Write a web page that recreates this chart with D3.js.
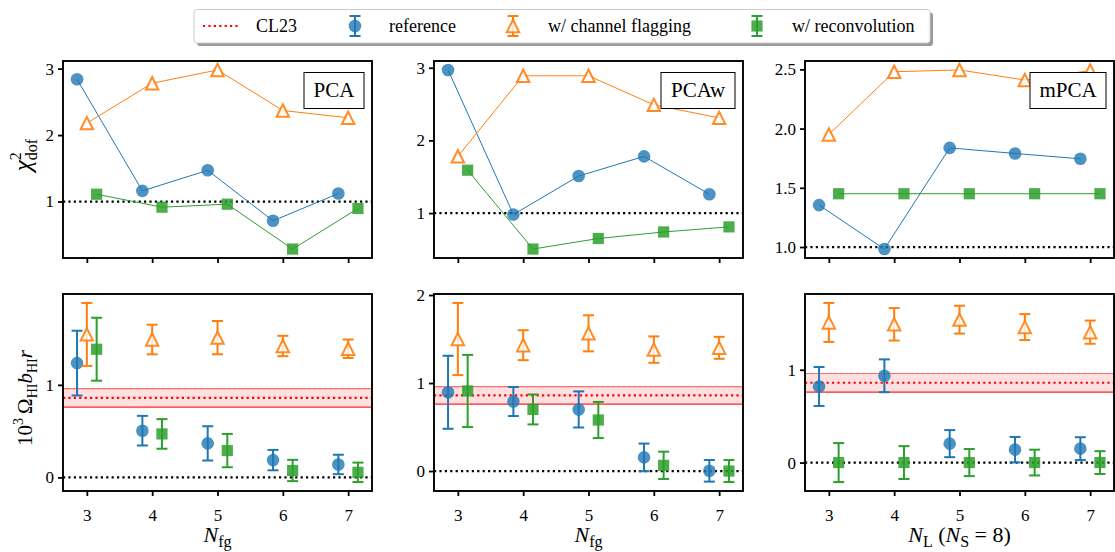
<!DOCTYPE html>
<html>
<head>
<meta charset="utf-8">
<script src="https://cdn.jsdelivr.net/npm/d3@7"></script>
<style>
  body { margin: 0; background: #fff; }
</style>
</head>
<body>
<svg width="1115" height="552" font-family="'Liberation Serif', Tinos, 'Times New Roman', 'DejaVu Serif', serif"></svg>
<script>
// x values (number of modes) and per-series offsets
const nValues = [3, 4, 5, 6, 7];
const methods = ["PCA", "PCAw", "mPCA"];
const seriesNames = ["reference", "w/ channel flagging", "w/ reconvolution"];
const seriesOffset = [-0.15, 0, 0.15];

// reduced chi^2 (top row)
const chiRefPCA   = [2.84, 1.16, 1.47, 0.71, 1.12];
const chiFlagPCA  = [2.18, 2.78, 2.98, 2.37, 2.26];
const chiReconPCA = [1.11, 0.915, 0.96, 0.285, 0.895];
const chiRefPCAw   = [2.97, 0.98, 1.51, 1.78, 1.26];
const chiFlagPCAw  = [1.78, 2.89, 2.89, 2.49, 2.31];
const chiReconPCAw = [1.59, 0.505, 0.65, 0.74, 0.81];
const chiRefMPCA   = [1.354, 0.983, 1.837, 1.79, 1.745];
const chiFlagMPCA  = [1.95, 2.48, 2.495, 2.41, 2.49];
const chiReconMPCA = [1.45, 1.45, 1.45, 1.45, 1.45];

// 10^3 Omega_HI b_HI r (bottom row) and 1-sigma errors
const omRefPCA     = [1.235, 0.505, 0.368, 0.187, 0.14];
const omRefPCAErr  = [0.35, 0.16, 0.185, 0.11, 0.105];
const omFlagPCA    = [1.545, 1.49, 1.51, 1.42, 1.39];
const omFlagPCAErr = [0.34, 0.16, 0.18, 0.11, 0.10];
const omReconPCA    = [1.385, 0.47, 0.29, 0.075, 0.055];
const omReconPCAErr = [0.34, 0.16, 0.18, 0.115, 0.105];

const omRefPCAw     = [0.895, 0.79, 0.70, 0.155, 0.003];
const omRefPCAwErr  = [0.415, 0.165, 0.205, 0.157, 0.123];
const omFlagPCAw    = [1.50, 1.43, 1.565, 1.38, 1.40];
const omFlagPCAwErr = [0.41, 0.17, 0.205, 0.15, 0.125];
const omReconPCAw    = [0.91, 0.70, 0.58, 0.065, 0.0];
const omReconPCAwErr = [0.41, 0.17, 0.205, 0.155, 0.125];

const omRefMPCA     = [0.82, 0.935, 0.204, 0.139, 0.15];
const omRefMPCAErr  = [0.21, 0.177, 0.146, 0.137, 0.123];
const omFlagMPCA    = [1.51, 1.49, 1.54, 1.46, 1.405];
const omFlagMPCAErr = [0.21, 0.175, 0.15, 0.14, 0.125];
const omReconMPCA    = [0, 0, 0, 0, 0];
const omReconMPCAErr = [0.21, 0.177, 0.146, 0.139, 0.123];

// CL23 literature value
const cl23 = 0.86, cl23Err = 0.10;

// tick values
const topTicks = [[1, 2, 3], [1, 2, 3], [1.0, 1.5, 2.0, 2.5]];
const bottomTicks = [[0, 1], [0, 1, 2], [0, 1]];

const chiData = [
  [chiRefPCA, chiFlagPCA, chiReconPCA],
  [chiRefPCAw, chiFlagPCAw, chiReconPCAw],
  [chiRefMPCA, chiFlagMPCA, chiReconMPCA]
];
const omData = [
  [[omRefPCA, omRefPCAErr], [omFlagPCA, omFlagPCAErr], [omReconPCA, omReconPCAErr]],
  [[omRefPCAw, omRefPCAwErr], [omFlagPCAw, omFlagPCAwErr], [omReconPCAw, omReconPCAwErr]],
  [[omRefMPCA, omRefMPCAErr], [omFlagMPCA, omFlagMPCAErr], [omReconMPCA, omReconMPCAErr]]
];

const colors = ["#1f77b4", "#ff7f0e", "#2ca02c"];
const colX = [63, 434, 805], panelW = 309;
const rowY = [61, 294], panelH = 197;

const svg = d3.select("svg");

function pad5(lo, hi) {
  const r = hi - lo;
  return [lo - 0.05 * r, hi + 0.05 * r];
}

const xLo = d3.min(nValues) + d3.min(seriesOffset), xHi = d3.max(nValues) + d3.max(seriesOffset);

function drawMarker(g, kind, cx, cy, col) {
  if (kind === 0) {
    g.append("circle").attr("cx", cx).attr("cy", cy).attr("r", 6.3)
      .attr("fill", col).attr("fill-opacity", 0.8);
  } else if (kind === 1) {
    const s = 6.2;
    g.append("path")
      .attr("d", `M${cx},${cy - s}L${cx + s},${cy + s}L${cx - s},${cy + s}Z`)
      .attr("fill", "#fff").attr("fill-opacity", 0.8)
      .attr("stroke", col).attr("stroke-width", 2).attr("stroke-opacity", 0.9)
      .attr("stroke-linejoin", "miter");
  } else {
    g.append("rect").attr("x", cx - 5.6).attr("y", cy - 5.6).attr("width", 11.2).attr("height", 11.2)
      .attr("fill", col).attr("fill-opacity", 0.85);
  }
}

function styleAxis(a) {
  a.attr("font-family", null).attr("font-size", null);
  a.select(".domain").remove();
  a.selectAll(".tick line").attr("stroke", "#000").attr("stroke-width", 1.8);
  a.selectAll(".tick text").style("font-size", "17px").attr("fill", "#000");
}

function richText(sel, parts) {
  parts.forEach(p => {
    const t = sel.append("tspan").text(p.t);
    if (p.size) t.style("font-size", p.size + "px");
    if (p.italic) t.style("font-style", "italic");
    if (p.dx) t.attr("dx", p.dx);
    if (p.dy) t.attr("dy", p.dy);
  });
}

methods.forEach((m, col) => {
  const x = d3.scaleLinear().domain(pad5(xLo, xHi)).range([colX[col], colX[col] + panelW]);

  // ---------- top: chi2 ----------
  {
    const all = chiData[col].flat();
    const y = d3.scaleLinear().domain(pad5(d3.min(all), d3.max(all))).range([rowY[0] + panelH, rowY[0]]);
    const g = svg.append("g");

    g.append("line").attr("x1", colX[col]).attr("x2", colX[col] + panelW)
      .attr("y1", y(1)).attr("y2", y(1))
      .attr("stroke", "#000").attr("stroke-width", 2.2).attr("stroke-dasharray", "2.2,3.2");

    chiData[col].forEach((vals, s) => {
      const line = d3.line().x((d, i) => x(nValues[i] + seriesOffset[s])).y(d => y(d));
      g.append("path").attr("d", line(vals)).attr("fill", "none")
        .attr("stroke", colors[s]).attr("stroke-width", 1);
    });
    chiData[col].forEach((vals, s) => {
      vals.forEach((v, i) => drawMarker(g, s, x(nValues[i] + seriesOffset[s]), y(v), colors[s]));
    });

    // method label box
    const bw = [60, 74, 76][col];
    const bx = colX[col] + panelW - 8 - bw;
    g.append("rect").attr("x", bx).attr("y", 72.5).attr("width", bw).attr("height", 36)
      .attr("fill", "#fff").attr("stroke", "#000").attr("stroke-width", 1);
    g.append("text").attr("x", bx + bw / 2).attr("y", 97).attr("text-anchor", "middle")
      .style("font-size", "21px").text(m);

    g.append("g").attr("transform", `translate(${colX[col]},0)`)
      .call(d3.axisLeft(y).tickValues(topTicks[col]).tickSize(5).tickPadding(4)
        .tickFormat(col === 2 ? d3.format(".1f") : d3.format("d")))
      .call(styleAxis);
    g.append("g").attr("transform", `translate(0,${rowY[0] + panelH})`)
      .call(d3.axisBottom(x).tickValues(nValues).tickSize(5).tickFormat(""))
      .call(styleAxis);

    g.append("rect").attr("x", colX[col]).attr("y", rowY[0]).attr("width", panelW).attr("height", panelH)
      .attr("fill", "none").attr("stroke", "#000").attr("stroke-width", 1.9);
  }

  // ---------- bottom: Omega_HI b_HI r ----------
  {
    const lows = omData[col].flatMap(([v, e]) => v.map((d, i) => d - e[i]));
    const highs = omData[col].flatMap(([v, e]) => v.map((d, i) => d + e[i]));
    const y = d3.scaleLinear().domain(pad5(d3.min(lows), d3.max(highs))).range([rowY[1] + panelH, rowY[1]]);
    const g = svg.append("g");
    const x0 = colX[col], x1 = colX[col] + panelW;

    g.append("rect").attr("x", x0).attr("width", panelW)
      .attr("y", y(cl23 + cl23Err)).attr("height", y(cl23 - cl23Err) - y(cl23 + cl23Err))
      .attr("fill", "#ff0000").attr("fill-opacity", 0.12);
    [cl23 + cl23Err, cl23 - cl23Err].forEach((v, k) => {
      g.append("line").attr("x1", x0).attr("x2", x1).attr("y1", y(v)).attr("y2", y(v))
        .attr("stroke", "#ff0000").attr("stroke-opacity", k === 0 ? 0.55 : 0.85).attr("stroke-width", 1.2);
    });
    g.append("line").attr("x1", x0).attr("x2", x1).attr("y1", y(cl23)).attr("y2", y(cl23))
      .attr("stroke", "#ff0000").attr("stroke-width", 2.2).attr("stroke-dasharray", "2.2,3.2");
    g.append("line").attr("x1", x0).attr("x2", x1).attr("y1", y(0)).attr("y2", y(0))
      .attr("stroke", "#000").attr("stroke-width", 2.2).attr("stroke-dasharray", "2.2,3.2");

    omData[col].forEach(([vals, errs], s) => {
      vals.forEach((v, i) => {
        const cx = x(nValues[i] + seriesOffset[s]);
        const yt = y(v + errs[i]), yb = y(v - errs[i]);
        g.append("line").attr("x1", cx).attr("x2", cx).attr("y1", yt).attr("y2", yb)
          .attr("stroke", colors[s]).attr("stroke-width", 2);
        [yt, yb].forEach(yy => g.append("line").attr("x1", cx - 5.5).attr("x2", cx + 5.5)
          .attr("y1", yy).attr("y2", yy).attr("stroke", colors[s]).attr("stroke-width", 2));
        drawMarker(g, s, cx, y(v), colors[s]);
      });
    });

    g.append("g").attr("transform", `translate(${x0},0)`)
      .call(d3.axisLeft(y).tickValues(bottomTicks[col]).tickSize(5).tickPadding(4).tickFormat(d3.format("d")))
      .call(styleAxis);
    g.append("g").attr("transform", `translate(0,${rowY[1] + panelH})`)
      .call(d3.axisBottom(x).tickValues(nValues).tickSize(5).tickPadding(13).tickFormat(d3.format("d")))
      .call(styleAxis);

    g.append("rect").attr("x", x0).attr("y", rowY[1]).attr("width", panelW).attr("height", panelH)
      .attr("fill", "none").attr("stroke", "#000").attr("stroke-width", 1.9);

    // x label
    const xl = g.append("text").attr("x", x0 + panelW / 2).attr("y", 542)
      .attr("text-anchor", "middle").style("font-size", "22px");
    if (col < 2) {
      richText(xl, [{t: "N", italic: true}, {t: "fg", size: 16, dy: 5}]);
    } else {
      richText(xl, [{t: "N", italic: true}, {t: "L", size: 16, dy: 5}, {t: " (", dy: -5},
        {t: "N", italic: true}, {t: "S", size: 16, dy: 5}, {t: " = 8)", dy: -5}]);
    }
  }
});

// y labels
const yl1 = svg.append("text").attr("transform", "translate(31,155) rotate(-90)")
  .attr("text-anchor", "middle").style("font-size", "25px");
richText(yl1, [{t: "χ", italic: true}, {t: "2", size: 16, dy: -10}, {t: "dof", size: 16, dx: -8, dy: 16}]);

const yl2 = svg.append("text").attr("transform", "translate(32,398) rotate(-90)")
  .attr("text-anchor", "middle").style("font-size", "21px");
richText(yl2, [{t: "10"}, {t: "3", size: 14, dy: -9}, {t: "Ω", dx: 4, dy: 9}, {t: "HI", size: 14, dy: 5},
  {t: "b", italic: true, dy: -5}, {t: "HI", size: 14, dy: 5}, {t: "r", italic: true, dy: -5}]);

// legend
const lg = svg.append("g");
lg.append("rect").attr("x", 197).attr("y", 12.5).attr("width", 736).attr("height", 33.5).attr("rx", 3)
  .attr("fill", "#9a9a9a");
lg.append("rect").attr("x", 194).attr("y", 9.5).attr("width", 736).attr("height", 33.5).attr("rx", 3)
  .attr("fill", "#fff").attr("stroke", "#cccccc").attr("stroke-width", 1);
const ly = 26;
lg.append("line").attr("x1", 203).attr("x2", 238).attr("y1", ly).attr("y2", ly)
  .attr("stroke", "#ff0000").attr("stroke-width", 2.2).attr("stroke-dasharray", "2.2,3.2");
lg.append("text").attr("x", 256).attr("y", ly + 6).style("font-size", "18px").text("CL23");
const legX = [355, 513, 757], legTextX = [389, 548, 792];
seriesNames.forEach((name, s) => {
  const cx = legX[s];
  lg.append("line").attr("x1", cx).attr("x2", cx).attr("y1", ly - 10).attr("y2", ly + 10)
    .attr("stroke", colors[s]).attr("stroke-width", 2);
  [ly - 10, ly + 10].forEach(yy => lg.append("line").attr("x1", cx - 5.5).attr("x2", cx + 5.5)
    .attr("y1", yy).attr("y2", yy).attr("stroke", colors[s]).attr("stroke-width", 2));
  drawMarker(lg, s, cx, ly, colors[s]);
  lg.append("text").attr("x", legTextX[s]).attr("y", ly + 6).style("font-size", "18px").text(name);
});
</script>
</body>
</html>
